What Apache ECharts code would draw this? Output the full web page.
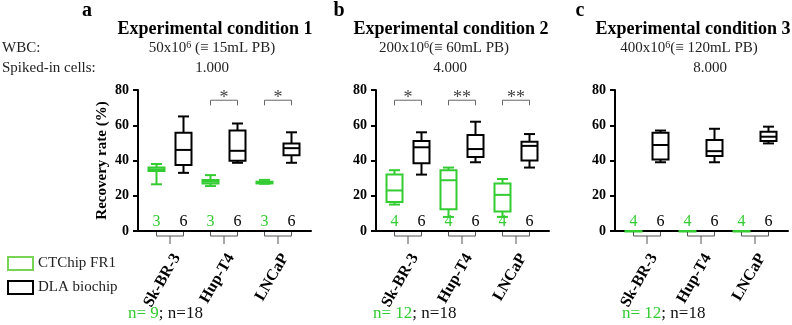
<!DOCTYPE html>
<html><head><meta charset="utf-8">
<script src="https://cdn.jsdelivr.net/npm/echarts@6/dist/echarts.min.js"></script>
<style>html,body{margin:0;padding:0;background:#fff}#c{width:792px;height:325px}</style>
</head><body><div id="c"></div>
<script>
// ---------- data ----------
const categories = ['Sk-BR-3', 'Hup-T4', 'LNCaP'];
const yTicks = [0, 20, 40, 60, 80];
const panelLetters = ['a', 'b', 'c'];
const titles = ['Experimental condition 1', 'Experimental condition 2', 'Experimental condition 3'];
const wbcValues = ['50x10{s|6} (≡ 15mL PB)', '200x10{s|6}(≡ 60mL PB)', '400x10{s|6}(≡ 120mL PB)'];
const spikedValues = ['1.000', '4.000', '8.000'];
const nCTChip = [9, 12, 12];
const nDLA = [18, 18, 18];
// box values: [min, Q1, median, Q3, max]
const ctchipA = [[26.5, 34, 35, 36, 38], [25.5, 27, 28, 29, 31.7], [26.8, 27, 27.5, 28, 29]];
const dlaA    = [[33, 37.4, 46, 55.8, 65], [38.7, 39.8, 45.5, 57, 61], [38.7, 43, 47, 49.7, 56]];
const ctchipB = [[15, 16.5, 23, 32, 34.5], [8, 12.3, 28.8, 34.5, 36], [8, 11, 20.5, 27, 29.5]];
const dlaB    = [[32, 38.5, 47.5, 51, 56], [39, 42, 46.5, 54.5, 62], [36, 40, 48.3, 50.7, 55]];
const ctchipC = [[0, 0, 0, 0, 0], [0, 0, 0, 0, 0], [0, 0, 0, 0, 0]];
const dlaC    = [[39, 40.6, 48.8, 55.8, 57], [39, 42.5, 45.3, 51.6, 58], [49.7, 51, 53.5, 56.3, 59.2]];
const countsCTChip = [[3, 3, 3], [4, 4, 4], [4, 4, 4]];
const countsDLA = [[6, 6, 6], [6, 6, 6], [6, 6, 6]];
const sigA = ['', '*', '*'];
const sigB = ['*', '**', '**'];
const sigC = ['', '', ''];

const ctchipAll = [ctchipA, ctchipB, ctchipC];
const dlaAll = [dlaA, dlaB, dlaC];
const sigAll = [sigA, sigB, sigC];

// ---------- style ----------
const SERIF = '"Liberation Serif","Times New Roman",serif';
const GREEN = '#33cc33';
const axisX = [138, 376, 615];
const titleX = [215, 451, 693];
const wbcX = [212, 444, 689];
const spikedX = [212, 450, 710];
const letterX = [87, 339, 580];
const nX = [128, 373, 622];

function boxRenderer(offset, color, counts) {
  return function (params, api) {
    const i = api.value(0);
    const v = [1, 2, 3, 4, 5].map(d => api.value(d));
    const base = api.coord([i, 0]);
    const x = base[0] + offset;
    const y = v.map(val => api.coord([i, val])[1]);
    const hw = 8, cw = 5.5;
    const st = { stroke: color, lineWidth: 2, fill: null };
    return {
      type: 'group',
      children: [
        { type: 'line', shape: { x1: x, y1: y[0], x2: x, y2: y[1] }, style: st },
        { type: 'line', shape: { x1: x, y1: y[3], x2: x, y2: y[4] }, style: st },
        { type: 'line', shape: { x1: x - cw, y1: y[0], x2: x + cw, y2: y[0] }, style: st },
        { type: 'line', shape: { x1: x - cw, y1: y[4], x2: x + cw, y2: y[4] }, style: st },
        { type: 'rect', shape: { x: x - hw, y: y[3], width: 2 * hw, height: Math.max(y[1] - y[3], 0.5) }, style: { stroke: color, lineWidth: 2, fill: 'rgba(0,0,0,0)' } },
        { type: 'line', shape: { x1: x - hw, y1: y[2], x2: x + hw, y2: y[2] }, style: st },
        { type: 'text', x: x, y: base[1] - 9, style: { text: String(counts[params.dataIndex]), fill: color, font: '16px ' + SERIF, textAlign: 'center', textVerticalAlign: 'middle', align: 'center', verticalAlign: 'middle' } }
      ]
    };
  };
}

function bracketRenderer(sigs) {
  return function (params, api) {
    const i = api.value(0);
    const base = api.coord([i, 0]);
    const xg = base[0] - 13.5, xb = base[0] + 13.5, y0 = base[1];
    const children = [
      { type: 'polyline', shape: { points: [[xg, y0 + 1], [xg, y0 + 5], [xb, y0 + 5], [xb, y0 + 1]] }, style: { stroke: '#555', lineWidth: 1, fill: null } },
      { type: 'line', shape: { x1: base[0], y1: y0 + 5, x2: base[0], y2: y0 + 13 }, style: { stroke: '#555', lineWidth: 1 } }
    ];
    const s = sigs[params.dataIndex];
    if (s) {
      const top = api.coord([i, 74.2])[1];
      const side = api.coord([i, 71.3])[1];
      children.push({ type: 'polyline', shape: { points: [[xg, side], [xg, top], [xb, top], [xb, side]] }, style: { stroke: '#666', lineWidth: 1, fill: null } });
      children.push({ type: 'text', x: base[0], y: api.coord([i, 75.5])[1], style: { text: s, fill: '#444', font: '18px ' + SERIF, textAlign: 'center', textVerticalAlign: 'middle', align: 'center', verticalAlign: 'middle' } });
    }
    return { type: 'group', children };
  };
}

const grids = [], xAxes = [], yAxes = [], series = [], graphics = [];
for (let k = 0; k < 3; k++) {
  const L = axisX[k];
  grids.push({ left: L, top: 90, width: 173, height: 141 });
  grids.push({ left: L + 5, top: 90, width: 162, height: 141 });
  const ga = 2 * k, gb = 2 * k + 1;
  xAxes.push({ gridIndex: ga, type: 'value', min: 0, max: 1, axisLine: { show: true, onZero: false, lineStyle: { color: '#000', width: 2 } }, axisTick: { show: false }, axisLabel: { show: false }, splitLine: { show: false } });
  xAxes.push({ gridIndex: gb, type: 'category', data: categories, axisLine: { show: false }, axisTick: { show: false }, splitLine: { show: false },
    axisLabel: { rotate: 60, margin: 20, verticalAlign: 'top', fontFamily: SERIF, fontWeight: 'bold', fontSize: 16, color: '#000', interval: 0 } });
  yAxes.push({ gridIndex: ga, type: 'value', min: yTicks[0], max: yTicks[yTicks.length - 1], interval: 20,
    axisLine: { show: true, lineStyle: { color: '#000', width: 2 } },
    axisTick: { show: true, length: 5, lineStyle: { color: '#000', width: 2 } },
    axisLabel: { fontFamily: SERIF, fontWeight: 'bold', fontSize: 14, color: '#000', margin: 9 },
    splitLine: { show: false },
    name: k === 0 ? 'Recovery rate (%)' : '', nameLocation: 'middle', nameGap: 28,
    nameTextStyle: { fontFamily: SERIF, fontWeight: 'bold', fontSize: 15, color: '#000' } });
  yAxes.push({ gridIndex: gb, type: 'value', min: 0, max: 80, show: false });

  series.push({ type: 'custom', name: 'CTChip FR1', xAxisIndex: gb, yAxisIndex: gb, clip: false, itemStyle: { color: GREEN },
    encode: { x: 0, y: [1, 2, 3, 4, 5] },
    data: ctchipAll[k].map((b, i) => [i].concat(b)), renderItem: boxRenderer(-13.5, GREEN, countsCTChip[k]) });
  series.push({ type: 'custom', name: 'DLA biochip', xAxisIndex: gb, yAxisIndex: gb, clip: false, itemStyle: { color: '#000' },
    encode: { x: 0, y: [1, 2, 3, 4, 5] },
    data: dlaAll[k].map((b, i) => [i].concat(b)), renderItem: boxRenderer(13.5, '#000', countsDLA[k]) });
  series.push({ type: 'custom', name: 'brackets', xAxisIndex: gb, yAxisIndex: gb, clip: false,
    encode: { x: 0, y: 1 },
    data: categories.map((c, i) => [i, 0]), renderItem: bracketRenderer(sigAll[k]) });

  graphics.push({ type: 'text', x: letterX[k], y: 11, style: { text: panelLetters[k], font: 'bold 20px ' + SERIF, fill: '#000', textAlign: 'center', textVerticalAlign: 'middle', align: 'center', verticalAlign: 'middle' } });
  graphics.push({ type: 'text', x: titleX[k], y: 29, style: { text: titles[k], font: 'bold 18px ' + SERIF, fill: '#000', textAlign: 'center', textVerticalAlign: 'middle', align: 'center', verticalAlign: 'middle' } });
  graphics.push({ type: 'text', x: wbcX[k], y: 48, style: { text: wbcValues[k], font: '15px ' + SERIF, fill: '#222', textAlign: 'center', textVerticalAlign: 'middle', align: 'center', verticalAlign: 'middle',
    rich: { s: { fontSize: 10, fontFamily: SERIF, verticalAlign: 'top', fill: '#222', color: '#222' } } } });
  graphics.push({ type: 'text', x: spikedX[k], y: 68, style: { text: spikedValues[k], font: '15px ' + SERIF, fill: '#222', textAlign: 'center', textVerticalAlign: 'middle', align: 'center', verticalAlign: 'middle' } });
  graphics.push({ type: 'text', x: nX[k], y: 314, style: { text: '{g|n= ' + nCTChip[k] + '}{k|; n=' + nDLA[k] + '}', font: '17px ' + SERIF, fill: '#000', textAlign: 'left', textVerticalAlign: 'middle', align: 'left', verticalAlign: 'middle',
    rich: { g: { fill: GREEN, color: GREEN, fontSize: 17, fontFamily: SERIF }, k: { fill: '#111', color: '#111', fontSize: 17, fontFamily: SERIF } } } });
}
graphics.push({ type: 'text', x: 2, y: 48, style: { text: 'WBC:', font: '15px ' + SERIF, fill: '#222', textAlign: 'left', textVerticalAlign: 'middle', align: 'left', verticalAlign: 'middle' } });
graphics.push({ type: 'text', x: 2, y: 68, style: { text: 'Spiked-in cells:', font: '15px ' + SERIF, fill: '#222', textAlign: 'left', textVerticalAlign: 'middle', align: 'left', verticalAlign: 'middle' } });

const chart = echarts.init(document.getElementById('c'), null, { renderer: 'canvas' });
chart.setOption({
  animation: false,
  backgroundColor: '#fff',
  grid: grids,
  xAxis: xAxes,
  yAxis: yAxes,
  legend: {
    orient: 'vertical', left: 2, top: 251, itemWidth: 25, itemHeight: 13, itemGap: 9, icon: 'rect', selectedMode: false,
    textStyle: { fontFamily: SERIF, fontSize: 15, color: '#222' },
    data: [
      { name: 'CTChip FR1', itemStyle: { color: '#fff', borderColor: '#77d455', borderWidth: 2 } },
      { name: 'DLA biochip', itemStyle: { color: '#fff', borderColor: '#000', borderWidth: 2 } }
    ]
  },
  graphic: graphics,
  series: series
});
</script>
</body></html>
